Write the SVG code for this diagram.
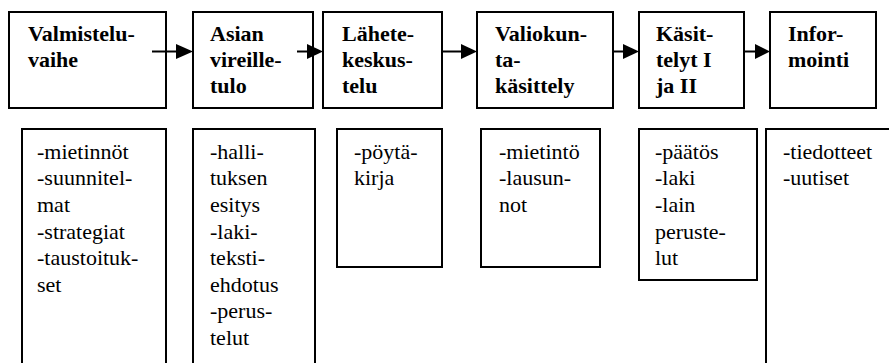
<svg xmlns="http://www.w3.org/2000/svg" width="889" height="363" viewBox="0 0 889 363">
<style>
.box{fill:#fff;stroke:#000;stroke-width:2}
.h{font-weight:bold;font-size:22px;fill:#000}
.t{font-size:22px;fill:#000}
.c{stroke:#000;stroke-width:2;fill:none}
.ah{fill:#000}
</style>
<rect width="889" height="363" fill="#fff"/>
<g font-family="'Times New Roman', 'Liberation Serif', 'DejaVu Serif', serif">
<g id="n1"><rect class="box" x="9" y="12" width="157" height="96"/><text class="h"><tspan x="28" y="41">Valmistelu-</tspan><tspan x="28" y="67">vaihe</tspan></text></g>
<g id="n2"><rect class="box" x="193" y="12" width="120" height="96"/><text class="h"><tspan x="210" y="41">Asian</tspan><tspan x="210" y="67">vireille-</tspan><tspan x="210" y="93">tulo</tspan></text></g>
<g id="n3"><rect class="box" x="323" y="12" width="119" height="96"/><text class="h"><tspan x="342" y="41">Lähete-</tspan><tspan x="342" y="67">keskus-</tspan><tspan x="342" y="93">telu</tspan></text></g>
<g id="n4"><rect class="box" x="477" y="12" width="136" height="96"/><text class="h"><tspan x="495" y="41">Valiokun-</tspan><tspan x="495" y="67">ta-</tspan><tspan x="495" y="93">käsittely</tspan></text></g>
<g id="n5"><rect class="box" x="639" y="12" width="105" height="96"/><text class="h"><tspan x="656" y="41">Käsit-</tspan><tspan x="656" y="67">telyt I</tspan><tspan x="656" y="93">ja II</tspan></text></g>
<g id="n6"><rect class="box" x="770" y="12" width="106" height="96"/><text class="h"><tspan x="788" y="41">Infor-</tspan><tspan x="788" y="67">mointi</tspan></text></g>
<g id="d1"><rect class="box" x="22" y="129" width="144" height="250"/><text class="t"><tspan x="37" y="159">-mietinnöt</tspan><tspan x="37" y="185">-suunnitel-</tspan><tspan x="37" y="212">mat</tspan><tspan x="37" y="239">-strategiat</tspan><tspan x="37" y="265">-taustoituk-</tspan><tspan x="37" y="292">set</tspan></text></g>
<g id="d2"><rect class="box" x="193" y="129" width="122" height="250"/><text class="t"><tspan x="210" y="159">-halli-</tspan><tspan x="210" y="185">tuksen</tspan><tspan x="210" y="212">esitys</tspan><tspan x="210" y="239">-laki-</tspan><tspan x="210" y="265">teksti-</tspan><tspan x="210" y="292">ehdotus</tspan><tspan x="210" y="318">-perus-</tspan><tspan x="210" y="345">telut</tspan></text></g>
<g id="d3"><rect class="box" x="337" y="129" width="105" height="138"/><text class="t"><tspan x="354" y="159">-pöytä-</tspan><tspan x="354" y="185">kirja</tspan></text></g>
<g id="d4"><rect class="box" x="481" y="129" width="119" height="138"/><text class="t"><tspan x="499" y="159">-mietintö</tspan><tspan x="499" y="185">-lausun-</tspan><tspan x="499" y="212">not</tspan></text></g>
<g id="d5"><rect class="box" x="639" y="129" width="118" height="151"/><text class="t"><tspan x="655" y="159">-päätös</tspan><tspan x="655" y="185">-laki</tspan><tspan x="655" y="212">-lain</tspan><tspan x="655" y="239">peruste-</tspan><tspan x="655" y="265">lut</tspan></text></g>
<g id="d6"><rect class="box" x="766" y="129" width="140" height="250"/><text class="t"><tspan x="783" y="159">-tiedotteet</tspan><tspan x="783" y="185">-uutiset</tspan></text></g>
</g>
<g id="connectors">
<line class="c" x1="152" y1="51.5" x2="178" y2="51.5"/><polygon class="ah" points="176,44 193,51.5 176,59"/>
<line class="c" x1="297" y1="51.5" x2="308" y2="51.5"/><polygon class="ah" points="307,44 323,51.5 307,59"/>
<line class="c" x1="442" y1="51.5" x2="462" y2="51.5"/><polygon class="ah" points="461,44 477,51.5 461,59"/>
<line class="c" x1="613" y1="51.5" x2="624" y2="51.5"/><polygon class="ah" points="623,44 639,51.5 623,59"/>
<line class="c" x1="744" y1="51.5" x2="756" y2="51.5"/><polygon class="ah" points="755,44 770,51.5 755,59"/>
</g>
</svg>
